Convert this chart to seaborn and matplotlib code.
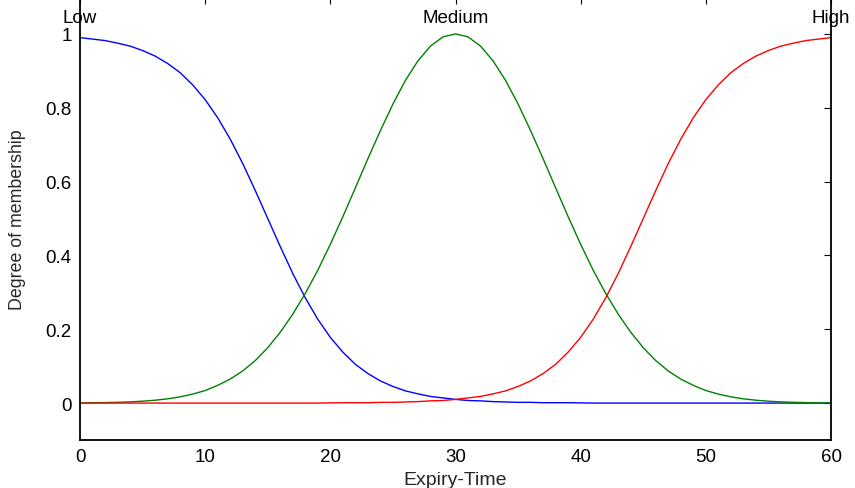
import matplotlib
matplotlib.use("Agg")
import matplotlib.pyplot as plt
import seaborn as sns
import pandas as pd

# Membership functions of the "Expiry-Time" input, sampled at unit steps
expiry_time = list(range(0, 61))

low = [0.990, 0.986, 0.982, 0.975, 0.967, 0.955, 0.940, 0.920, 0.895, 0.862,
       0.822, 0.773, 0.715, 0.649, 0.576, 0.500, 0.424, 0.351, 0.285, 0.227,
       0.178, 0.138, 0.105, 0.080, 0.060, 0.045, 0.033, 0.025, 0.018, 0.014,
       0.010, 0.007, 0.006, 0.004, 0.003, 0.002, 0.002, 0.001, 0.001, 0.001,
       0.0005, 0.0, 0.0, 0.0, 0.0, 0.0, 0.0, 0.0, 0.0, 0.0,
       0.0, 0.0, 0.0, 0.0, 0.0, 0.0, 0.0, 0.0, 0.0, 0.0, 0.0]

medium = [0.0005, 0.0008, 0.0013, 0.0021, 0.0033, 0.0051, 0.0078, 0.0115, 0.0169, 0.0243,
          0.034, 0.048, 0.065, 0.087, 0.115, 0.150, 0.192, 0.241, 0.297, 0.360,
          0.430, 0.505, 0.583, 0.662, 0.738, 0.810, 0.874, 0.927, 0.967, 0.992,
          1.000,
          0.992, 0.967, 0.927, 0.874, 0.810, 0.738, 0.662, 0.583, 0.505, 0.430,
          0.360, 0.297, 0.241, 0.192, 0.150, 0.115, 0.087, 0.065, 0.048, 0.034,
          0.0243, 0.0169, 0.0115, 0.0078, 0.0051, 0.0033, 0.0021, 0.0013, 0.0008, 0.0005]

high = [0.0, 0.0, 0.0, 0.0, 0.0, 0.0, 0.0, 0.0, 0.0, 0.0,
        0.0, 0.0, 0.0, 0.0, 0.0, 0.0, 0.0, 0.0, 0.0, 0.0,
        0.0005, 0.001, 0.001, 0.001, 0.002, 0.002, 0.003, 0.004, 0.006, 0.007,
        0.010, 0.014, 0.018, 0.025, 0.033, 0.045, 0.060, 0.080, 0.105, 0.138,
        0.178, 0.227, 0.285, 0.351, 0.424, 0.500, 0.576, 0.649, 0.715, 0.773,
        0.822, 0.862, 0.895, 0.920, 0.940, 0.955, 0.967, 0.975, 0.982, 0.986, 0.990]

set_names = ["Low", "Medium", "High"]
set_peaks = [0, 30, 60]
line_colors = ["#0000ff", "#008000", "#ff0000"]

x_ticks = [0, 10, 20, 30, 40, 50, 60]
y_ticks = [0, 0.2, 0.4, 0.6, 0.8, 1]
y_tick_labels = ["0", "0.2", "0.4", "0.6", "0.8", "1"]

df = pd.DataFrame({
    "Expiry-Time": expiry_time * 3,
    "Degree of membership": low + medium + high,
    "set": ["Low"] * len(low) + ["Medium"] * len(medium) + ["High"] * len(high),
})

sns.set_style("white")
plt.rcParams["font.family"] = ["Liberation Sans", "DejaVu Sans"]

fig = plt.figure(figsize=(8.55, 4.89), dpi=100)
ax = fig.add_axes([80 / 855, 48 / 489, 751 / 855, 443 / 489])

sns.lineplot(data=df, x="Expiry-Time", y="Degree of membership", hue="set",
             hue_order=set_names, palette=line_colors, linewidth=1.0,
             legend=False, ax=ax, estimator=None, sort=False)

ax.set_xlim(0, 60)
ax.set_ylim(-0.1, 1.1)
ax.set_xticks(x_ticks)
ax.set_xticklabels([str(t) for t in x_ticks])
ax.set_yticks(y_ticks)
ax.set_yticklabels(y_tick_labels)

for name, peak in zip(set_names, set_peaks):
    ax.text(peak, 1.045, name, ha="center", va="center", fontsize=13.5, color="black")

for side in ["left", "right", "top", "bottom"]:
    ax.spines[side].set_visible(True)
    ax.spines[side].set_color("black")
    ax.spines[side].set_linewidth(1.3)

ax.tick_params(direction="in", top=True, right=True, length=5, width=0.8,
               labelsize=13.5, pad=6, colors="black")

ax.set_xlabel("Expiry-Time", fontsize=14, labelpad=4)
ax.set_ylabel("Degree of membership", fontsize=12.8, labelpad=14)

fig.savefig("out.png", dpi=100)
